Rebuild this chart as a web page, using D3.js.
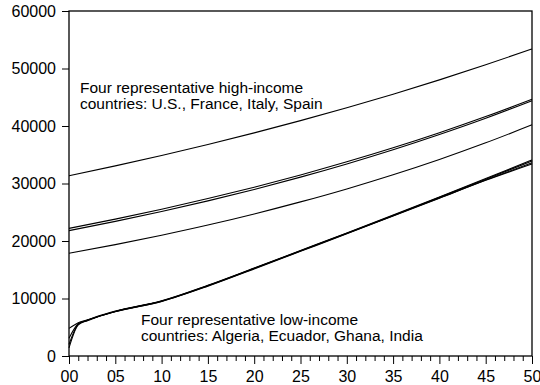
<!DOCTYPE html>
<html>
<head>
<meta charset="utf-8">
<script src="https://cdn.jsdelivr.net/npm/d3@7"></script>
<style>
  body { margin: 0; background: #fff; }
  svg { display: block; font-family: "Liberation Sans", Arial, sans-serif; }
</style>
</head>
<body>
<svg id="chart" width="540" height="385"></svg>
<script>
// years since 2000
var highYears = [0, 5, 10, 15, 20, 25, 30, 35, 40, 45, 50]
var lowYears = [0, 1, 2, 3, 5, 10, 15, 20, 25, 30, 35, 40, 45, 50]

// high-income (U.S., France, Italy, Spain)
var highA = [31350, 33070, 34880, 36790, 38800, 40930, 43170, 45530, 48020, 50650, 53400]
var highB = [22200, 23810, 25530, 27380, 29360, 31490, 33770, 36210, 38830, 41640, 44650]
var highC = [21800, 23410, 25130, 26980, 28970, 31110, 33400, 35860, 38510, 41340, 44390]
var highD = [17860, 19370, 21010, 22780, 24710, 26800, 29060, 31520, 34180, 37070, 40200]

// low-income (Algeria, Ecuador, Ghana, India)
var lowA = [4800, 5800, 6300, 6850, 7800, 9600, 12300, 15300, 18350, 21400, 24500, 27650, 30850, 34100]
var lowB = [3100, 5600, 6250, 6800, 7750, 9550, 12250, 15250, 18300, 21350, 24450, 27600, 30750, 33900]
var lowC = [2000, 5500, 6200, 6780, 7750, 9500, 12200, 15200, 18250, 21300, 24400, 27500, 30600, 33600]
var lowD = [1400, 5400, 6150, 6750, 7700, 9500, 12150, 15150, 18200, 21250, 24350, 27450, 30550, 33400]

var yTicks = [0, 10000, 20000, 30000, 40000, 50000, 60000]
var highLabel = ['Four representative high-income', 'countries: U.S., France, Italy, Spain']
var lowLabel = ['Four representative low-income', 'countries: Algeria, Ecuador, Ghana, India']

var svg = d3.select('#chart')
var mLeft = 69, mRight = 532, mTop = 11, mBottom = 356

var x = d3.scaleLinear().domain([0, 50]).range([mLeft, mRight])
var y = d3.scaleLinear().domain([0, 60000]).range([mBottom, mTop])

var line = d3.line()
    .x(function(d) { return x(d[0]) })
    .y(function(d) { return y(d[1]) })
    .curve(d3.curveMonotoneX)

var series = []
;[highA, highB, highC, highD].forEach(function(s) { series.push(d3.zip(highYears, s)) })
;[lowA, lowB, lowC, lowD].forEach(function(s) { series.push(d3.zip(lowYears, s)) })

svg.append('g').selectAll('path')
    .data(series)
    .enter().append('path')
    .attr('d', line)
    .attr('fill', 'none')
    .attr('stroke', '#000')
    .attr('stroke-width', 1.1)

// frame
svg.append('rect')
    .attr('x', mLeft).attr('y', mTop)
    .attr('width', mRight - mLeft).attr('height', mBottom - mTop)
    .attr('fill', 'none').attr('stroke', '#000').attr('stroke-width', 1.3)

// y axis
var yAxis = svg.append('g')
    .attr('transform', 'translate(' + mLeft + ',0)')
    .call(d3.axisLeft(y).tickValues(yTicks).tickSize(7).tickPadding(6).tickFormat(d3.format('d')))
yAxis.select('.domain').remove()
yAxis.selectAll('text').attr('font-size', 16).attr('fill', '#000').attr('font-family', null)

// x axis, minor tick every year
var xAxis = svg.append('g')
    .attr('transform', 'translate(0,' + mBottom + ')')
    .call(d3.axisBottom(x).tickValues(d3.range(0, 51)).tickSize(5)
        .tickFormat(function(d) { return d % 5 == 0 ? d3.format('02d')(d) : '' }))
xAxis.select('.domain').remove()
xAxis.selectAll('.tick line').attr('y2', function(d) { return d % 5 == 0 ? 8 : 5 })
xAxis.selectAll('text').attr('y', 15).attr('font-size', 16).attr('fill', '#000').attr('font-family', null)

function label(lines, lx, ly) {
    var t = svg.append('text').attr('font-size', 15.5).attr('fill', '#000')
    lines.forEach(function(s, i) {
        t.append('tspan').attr('x', lx).attr('y', ly + i * 15.5).text(s)
    })
}
label(highLabel, 80, 93)
label(lowLabel, 141, 325)
</script>
</body>
</html>
